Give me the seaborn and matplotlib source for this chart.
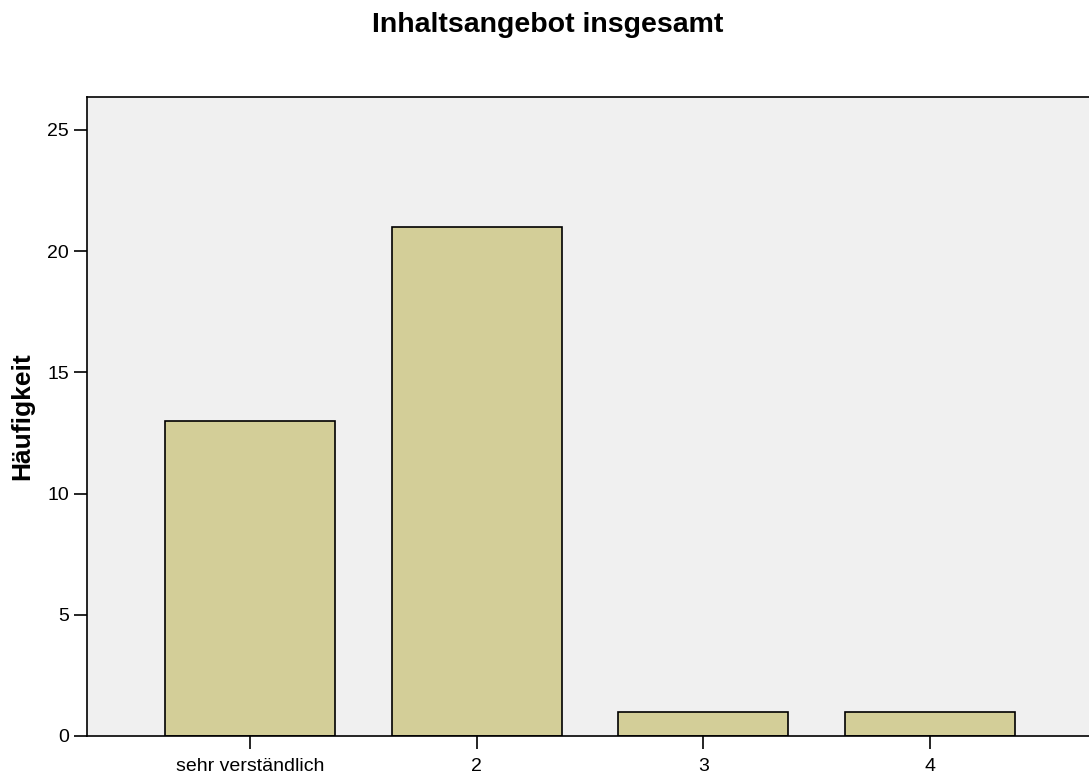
import matplotlib
matplotlib.use("Agg")
import matplotlib.pyplot as plt
import seaborn as sns
import pandas as pd

categories = ["sehr verständlich", "2", "3", "4"]
counts = [13, 21, 1, 1]

sns.set_style("white")
plt.rcParams['font.family'] = ['Liberation Sans', 'DejaVu Sans']
plt.rcParams['text.color'] = 'black'
plt.rcParams['axes.labelcolor'] = 'black'
plt.rcParams['xtick.color'] = 'black'
plt.rcParams['ytick.color'] = 'black'

df = pd.DataFrame({"kategorie": categories, "haeufigkeit": counts})

fig = plt.figure(figsize=(10.89, 7.76), dpi=100)
ax = fig.add_axes([87 / 1089, 40 / 776, 1006 / 1089, 639 / 776])
ax.set_facecolor("#f0f0f0")

sns.barplot(data=df, x="kategorie", y="haeufigkeit", color="#d3ce98",
            edgecolor="black", linewidth=1.2, width=0.75, saturation=1, ax=ax)

ax.set_xlim(-0.718, 3.718)
ax.set_ylim(0, 26.36)
ax.set_yticks([0, 5, 10, 15, 20, 25])
ax.set_xlabel("")
ax.set_ylabel("Häufigkeit", fontsize=19, fontweight="bold", labelpad=9)
ax.tick_params(axis="both", direction="out", length=9.5, width=1.2, labelsize=14,
               color="black", left=True, bottom=True)
ax.tick_params(axis="y", pad=3.5)
ax.tick_params(axis="x", pad=6)
for side in ["left", "bottom", "top"]:
    ax.spines[side].set_color("black")
    ax.spines[side].set_linewidth(1.2)
ax.spines["right"].set_visible(False)

fig.text(548 / 1089, 1 - 32 / 776, "Inhaltsangebot insgesamt", ha="center",
         va="baseline", fontsize=20.5, fontweight="bold")

fig.savefig("out.png", dpi=100)
